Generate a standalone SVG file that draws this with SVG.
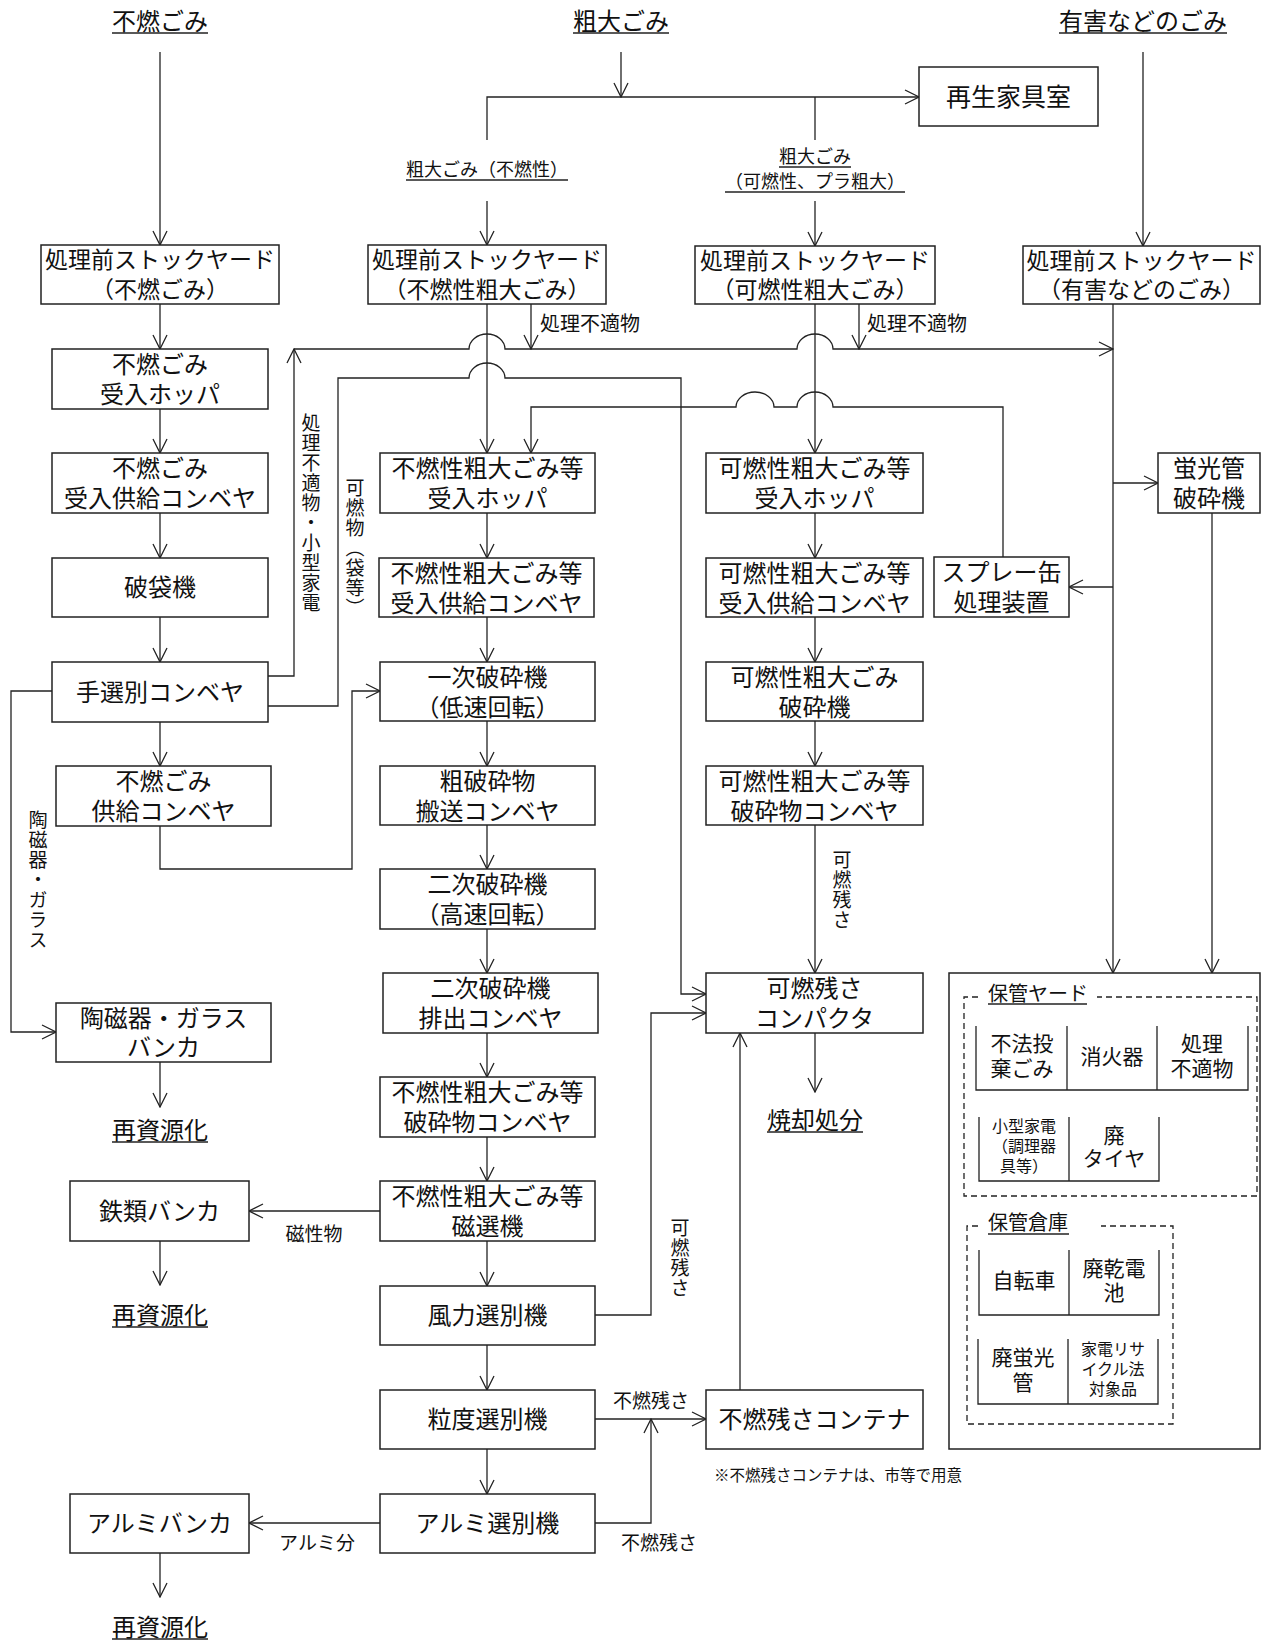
<svg xmlns="http://www.w3.org/2000/svg" width="1263" height="1652" viewBox="0 0 1263 1652">
<defs>
<style>
text{font-family:"Liberation Sans","Noto Sans CJK JP","Noto Sans CJK SC",sans-serif;fill:#111;text-anchor:middle;dominant-baseline:central}
.f25{font-size:25px}
.f24{font-size:24px}
.f23{font-size:23px}
.f21{font-size:21px}
.f20{font-size:20px}
.f19{font-size:19px}
.f18{font-size:18px}
.f16{font-size:16px}
.f15{font-size:15.5px}
.st{text-anchor:start}
.vt{writing-mode:vertical-rl;text-anchor:start;letter-spacing:1px}
.box{fill:#fff;stroke:#222;stroke-width:1.5}
.ln{fill:none;stroke:#222;stroke-width:1.3}
.ar{marker-end:url(#arw)}
.ul{stroke:#222;stroke-width:1.3}
.dash{fill:none;stroke:#222;stroke-width:1.3;stroke-dasharray:6 4}
</style>
<marker id="arw" markerUnits="userSpaceOnUse" markerWidth="16" markerHeight="16" viewBox="0 0 16 16" refX="15" refY="8" orient="auto">
<path d="M1,1 L15,8 L1,15" fill="none" stroke="#222" stroke-width="1.3"/>
</marker>
</defs>
<rect width="1263" height="1652" fill="#fff"/>

<g id="connectors">
<path class="ln ar" d="M160,52 V245"/>
<path class="ln ar" d="M621,52 V97"/>
<path class="ln ar" d="M487,140 V97 H919"/>
<path class="ln" d="M815,97 V140"/>
<path class="ln ar" d="M487,201 V245"/>
<path class="ln ar" d="M815,201 V246"/>
<path class="ln ar" d="M1143,52 V246"/>
<path class="ln ar" d="M160,304 V349"/>
<path class="ln ar" d="M160,409 V453"/>
<path class="ln ar" d="M160,513 V558"/>
<path class="ln ar" d="M160,617 V662"/>
<path class="ln ar" d="M160,722 V766"/>
<path class="ln ar" d="M160,826 V869 H352 V691 H380"/>
<path class="ln ar" d="M268,676 H294 V349"/>
<path class="ln ar" d="M294,349 H469 A18,15 0 0 1 505,349 H797 A18,15 0 0 1 833,349 H1113"/>
<path class="ln ar" d="M268,706 H338 V378 H469 A18,15 0 0 1 505,378 H681 V994 H706"/>
<path class="ln ar" d="M52,691 H11 V1032 H56"/>
<path class="ln ar" d="M160,1062 V1107"/>
<path class="ln ar" d="M380,1211 H249"/>
<path class="ln ar" d="M160,1241 V1285"/>
<path class="ln ar" d="M380,1523 H249"/>
<path class="ln ar" d="M160,1553 V1597"/>
<path class="ln ar" d="M487,304 V453"/>
<path class="ln ar" d="M487,513 V558"/>
<path class="ln ar" d="M487,617 V662"/>
<path class="ln ar" d="M487,721 V766"/>
<path class="ln ar" d="M487,825 V869"/>
<path class="ln ar" d="M487,929 V973"/>
<path class="ln ar" d="M487,1033 V1077"/>
<path class="ln ar" d="M487,1137 V1181"/>
<path class="ln ar" d="M487,1241 V1286"/>
<path class="ln ar" d="M487,1345 V1390"/>
<path class="ln ar" d="M487,1449 V1494"/>
<path class="ln ar" d="M531,304 V349"/>
<path class="ln ar" d="M859,304 V349"/>
<path class="ln ar" d="M1003,557 V407 H833 A18,15 0 0 0 797,407 H774 A19,15 0 0 0 736,407 H531 V453"/>
<path class="ln ar" d="M595,1315 H651 V1013 H706"/>
<path class="ln ar" d="M595,1419 H706"/>
<path class="ln ar" d="M595,1523 H651 V1419"/>
<path class="ln ar" d="M740,1390 V1033"/>
<path class="ln ar" d="M815,304 V453"/>
<path class="ln ar" d="M815,513 V558"/>
<path class="ln ar" d="M815,617 V662"/>
<path class="ln ar" d="M815,721 V766"/>
<path class="ln ar" d="M815,825 V973"/>
<path class="ln ar" d="M815,1033 V1092"/>
<path class="ln ar" d="M1113,304 V973"/>
<path class="ln ar" d="M1113,483 H1158"/>
<path class="ln ar" d="M1113,587 H1069"/>
<path class="ln ar" d="M1212,513 V973"/>
</g>

<g id="edge-labels">
<text class="f18" x="487" y="170">粗大ごみ（不燃性）</text>
<line class="ul" x1="406" y1="180" x2="568" y2="180"/>
<text class="f18"><tspan x="815" y="157">粗大ごみ</tspan><tspan x="815" y="182">（可燃性、プラ粗大）</tspan></text>
<line class="ul" x1="779" y1="167" x2="851" y2="167"/>
<line class="ul" x1="725" y1="192" x2="905" y2="192"/>
<text class="f20 st" x="540" y="324">処理不適物</text>
<text class="f20 st" x="867" y="324">処理不適物</text>
<text class="f19 vt" x="309" y="413">処理不適物・小型家電</text>
<text class="f19 vt" x="353" y="478">可燃物（袋等）</text>
<text class="f19 vt" x="36" y="810">陶磁器・ガラス</text>
<text class="f19" x="314" y="1234">磁性物</text>
<text class="f19 vt" x="840" y="850">可燃残さ</text>
<text class="f19 vt" x="678" y="1218">可燃残さ</text>
<text class="f19" x="651" y="1401">不燃残さ</text>
<text class="f19" x="659" y="1543">不燃残さ</text>
<text class="f19" x="317" y="1543">アルミ分</text>
<text class="f15 st" x="714" y="1475">※不燃残さコンテナは、市等で用意</text>
</g>

<g id="src-funen"><text class="f24" x="160" y="21">不燃ごみ</text><line class="ul" x1="112" y1="33" x2="208" y2="33"/></g>
<g id="src-sodai"><text class="f24" x="621" y="21">粗大ごみ</text><line class="ul" x1="573" y1="33" x2="669" y2="33"/></g>
<g id="src-yugai"><text class="f24" x="1143" y="21">有害などのごみ</text><line class="ul" x1="1059" y1="33" x2="1227" y2="33"/></g>

<g id="saisei-kagu"><rect class="box" x="919" y="67" width="179" height="59"/><text class="f25" x="1008.5" y="96.5">再生家具室</text></g>

<g id="sy-funen"><rect class="box" x="41" y="245" width="238" height="59"/><text class="f23"><tspan x="160" y="260">処理前ストックヤード</tspan><tspan x="160" y="290">（不燃ごみ）</tspan></text></g>
<g id="sy-funen-sodai"><rect class="box" x="368" y="245" width="238" height="59"/><text class="f23"><tspan x="487" y="260">処理前ストックヤード</tspan><tspan x="487" y="290">（不燃性粗大ごみ）</tspan></text></g>
<g id="sy-kanen-sodai"><rect class="box" x="695" y="246" width="240" height="58"/><text class="f23"><tspan x="815" y="261">処理前ストックヤード</tspan><tspan x="815" y="290">（可燃性粗大ごみ）</tspan></text></g>
<g id="sy-yugai"><rect class="box" x="1023" y="246" width="237" height="58"/><text class="f23"><tspan x="1141.5" y="261">処理前ストックヤード</tspan><tspan x="1141.5" y="290">（有害などのごみ）</tspan></text></g>

<g id="funen-hopper"><rect class="box" x="52" y="349" width="216" height="60"/><text class="f24"><tspan x="160" y="364">不燃ごみ</tspan><tspan x="160" y="394">受入ホッパ</tspan></text></g>
<g id="funen-conv"><rect class="box" x="52" y="453" width="216" height="60"/><text class="f24"><tspan x="160" y="468">不燃ごみ</tspan><tspan x="160" y="498">受入供給コンベヤ</tspan></text></g>
<g id="hataiki"><rect class="box" x="52" y="558" width="216" height="59"/><text class="f24" x="160" y="587.5">破袋機</text></g>
<g id="tesenbetsu"><rect class="box" x="52" y="662" width="216" height="60"/><text class="f24" x="160" y="692">手選別コンベヤ</text></g>
<g id="funen-kyokyu"><rect class="box" x="56" y="766" width="215" height="60"/><text class="f24"><tspan x="163.5" y="781">不燃ごみ</tspan><tspan x="163.5" y="811">供給コンベヤ</tspan></text></g>
<g id="tojiki-bunker"><rect class="box" x="56" y="1003" width="215" height="59"/><text class="f24"><tspan x="163.5" y="1018">陶磁器・ガラス</tspan><tspan x="163.5" y="1047">バンカ</tspan></text></g>
<g id="shigen1"><text class="f24" x="160" y="1130">再資源化</text><line class="ul" x1="112" y1="1142" x2="208" y2="1142"/></g>
<g id="tetsu-bunker"><rect class="box" x="70" y="1181" width="179" height="60"/><text class="f24" x="159.5" y="1211">鉄類バンカ</text></g>
<g id="shigen2"><text class="f24" x="160" y="1315">再資源化</text><line class="ul" x1="112" y1="1327" x2="208" y2="1327"/></g>
<g id="alumi-bunker"><rect class="box" x="70" y="1494" width="179" height="59"/><text class="f24" x="159.5" y="1523.5">アルミバンカ</text></g>
<g id="shigen3"><text class="f24" x="160" y="1627">再資源化</text><line class="ul" x1="112" y1="1639" x2="208" y2="1639"/></g>

<g id="fs-hopper"><rect class="box" x="380" y="453" width="215" height="60"/><text class="f24"><tspan x="487.5" y="468">不燃性粗大ごみ等</tspan><tspan x="487.5" y="498">受入ホッパ</tspan></text></g>
<g id="fs-conv"><rect class="box" x="379" y="558" width="215" height="59"/><text class="f24"><tspan x="486.5" y="573">不燃性粗大ごみ等</tspan><tspan x="486.5" y="603">受入供給コンベヤ</tspan></text></g>
<g id="ichiji"><rect class="box" x="380" y="662" width="215" height="59"/><text class="f24"><tspan x="487.5" y="677">一次破砕機</tspan><tspan x="487.5" y="707">（低速回転）</tspan></text></g>
<g id="soha-conv"><rect class="box" x="380" y="766" width="215" height="59"/><text class="f24"><tspan x="487.5" y="781">粗破砕物</tspan><tspan x="487.5" y="811">搬送コンベヤ</tspan></text></g>
<g id="niji"><rect class="box" x="380" y="869" width="215" height="60"/><text class="f24"><tspan x="487.5" y="884">二次破砕機</tspan><tspan x="487.5" y="914">（高速回転）</tspan></text></g>
<g id="niji-conv"><rect class="box" x="383" y="973" width="215" height="60"/><text class="f24"><tspan x="490.5" y="988">二次破砕機</tspan><tspan x="490.5" y="1018">排出コンベヤ</tspan></text></g>
<g id="fs-hasai-conv"><rect class="box" x="380" y="1077" width="215" height="60"/><text class="f24"><tspan x="487.5" y="1092">不燃性粗大ごみ等</tspan><tspan x="487.5" y="1122">破砕物コンベヤ</tspan></text></g>
<g id="jisenki"><rect class="box" x="380" y="1181" width="215" height="60"/><text class="f24"><tspan x="487.5" y="1196">不燃性粗大ごみ等</tspan><tspan x="487.5" y="1226">磁選機</tspan></text></g>
<g id="fuuryoku"><rect class="box" x="380" y="1286" width="215" height="59"/><text class="f24" x="487.5" y="1315.5">風力選別機</text></g>
<g id="ryudo"><rect class="box" x="380" y="1390" width="215" height="59"/><text class="f24" x="487.5" y="1419.5">粒度選別機</text></g>
<g id="alumi-sen"><rect class="box" x="380" y="1494" width="215" height="59"/><text class="f24" x="487.5" y="1523.5">アルミ選別機</text></g>

<g id="ks-hopper"><rect class="box" x="706" y="453" width="217" height="60"/><text class="f24"><tspan x="814.5" y="468">可燃性粗大ごみ等</tspan><tspan x="814.5" y="498">受入ホッパ</tspan></text></g>
<g id="ks-conv"><rect class="box" x="706" y="558" width="217" height="59"/><text class="f24"><tspan x="814.5" y="573">可燃性粗大ごみ等</tspan><tspan x="814.5" y="603">受入供給コンベヤ</tspan></text></g>
<g id="ks-hasaiki"><rect class="box" x="706" y="662" width="217" height="59"/><text class="f24"><tspan x="814.5" y="677">可燃性粗大ごみ</tspan><tspan x="814.5" y="707">破砕機</tspan></text></g>
<g id="ks-hasai-conv"><rect class="box" x="706" y="766" width="217" height="59"/><text class="f24"><tspan x="814.5" y="781">可燃性粗大ごみ等</tspan><tspan x="814.5" y="811">破砕物コンベヤ</tspan></text></g>
<g id="compactor"><rect class="box" x="706" y="973" width="217" height="60"/><text class="f24"><tspan x="814.5" y="988">可燃残さ</tspan><tspan x="814.5" y="1018">コンパクタ</tspan></text></g>
<g id="shokyaku"><text class="f24" x="815" y="1120">焼却処分</text><line class="ul" x1="767" y1="1132" x2="863" y2="1132"/></g>
<g id="container"><rect class="box" x="706" y="1390" width="217" height="59"/><text class="f24" x="814.5" y="1419.5">不燃残さコンテナ</text></g>

<g id="spray"><rect class="box" x="934" y="557" width="135" height="60"/><text class="f24"><tspan x="1001.5" y="572">スプレー缶</tspan><tspan x="1001.5" y="602">処理装置</tspan></text></g>
<g id="keikou"><rect class="box" x="1158" y="453" width="102" height="60"/><text class="f24"><tspan x="1209" y="468">蛍光管</tspan><tspan x="1209" y="498">破砕機</tspan></text></g>

<g id="storage">
<rect class="box" x="949" y="973" width="311" height="476"/>
<g id="hokan-yard">
<path class="dash" d="M978,997 H964 V1196 H1257 V997 H1097"/>
<text class="f20 st" x="988" y="994">保管ヤード</text>
<line class="ul" x1="988" y1="1004" x2="1087" y2="1004"/>
<path class="ln" d="M976,1026 V1090 H1248 V1026 M1067,1026 V1090 M1157,1026 V1090"/>
<text class="f21"><tspan x="1022" y="1043">不法投</tspan><tspan x="1022" y="1068">棄ごみ</tspan></text>
<text class="f21" x="1112" y="1056">消火器</text>
<text class="f21"><tspan x="1202" y="1043">処理</tspan><tspan x="1202" y="1068">不適物</tspan></text>
<path class="ln" d="M979,1117 V1181 H1159 V1117 M1069,1117 V1181"/>
<text class="f16"><tspan x="1024" y="1126">小型家電</tspan><tspan x="1024" y="1146">（調理器</tspan><tspan x="1024" y="1166">具等）</tspan></text>
<text class="f21"><tspan x="1114" y="1135">廃</tspan><tspan x="1114" y="1158">タイヤ</tspan></text>
</g>
<g id="hokan-soko">
<path class="dash" d="M978,1226 H967 V1424 H1173 V1226 H1101"/>
<text class="f20 st" x="988" y="1223">保管倉庫</text>
<line class="ul" x1="988" y1="1234" x2="1069" y2="1234"/>
<path class="ln" d="M979,1250 V1315 H1159 V1250 M1069,1250 V1315"/>
<text class="f21" x="1024" y="1280">自転車</text>
<text class="f21"><tspan x="1114" y="1268">廃乾電</tspan><tspan x="1114" y="1292">池</tspan></text>
<path class="ln" d="M978,1339 V1404 H1158 V1339 M1068,1339 V1404"/>
<text class="f21"><tspan x="1023" y="1357">廃蛍光</tspan><tspan x="1023" y="1382">管</tspan></text>
<text class="f16"><tspan x="1113" y="1349">家電リサ</tspan><tspan x="1113" y="1369">イクル法</tspan><tspan x="1113" y="1389">対象品</tspan></text>
</g>
</g>
</svg>
